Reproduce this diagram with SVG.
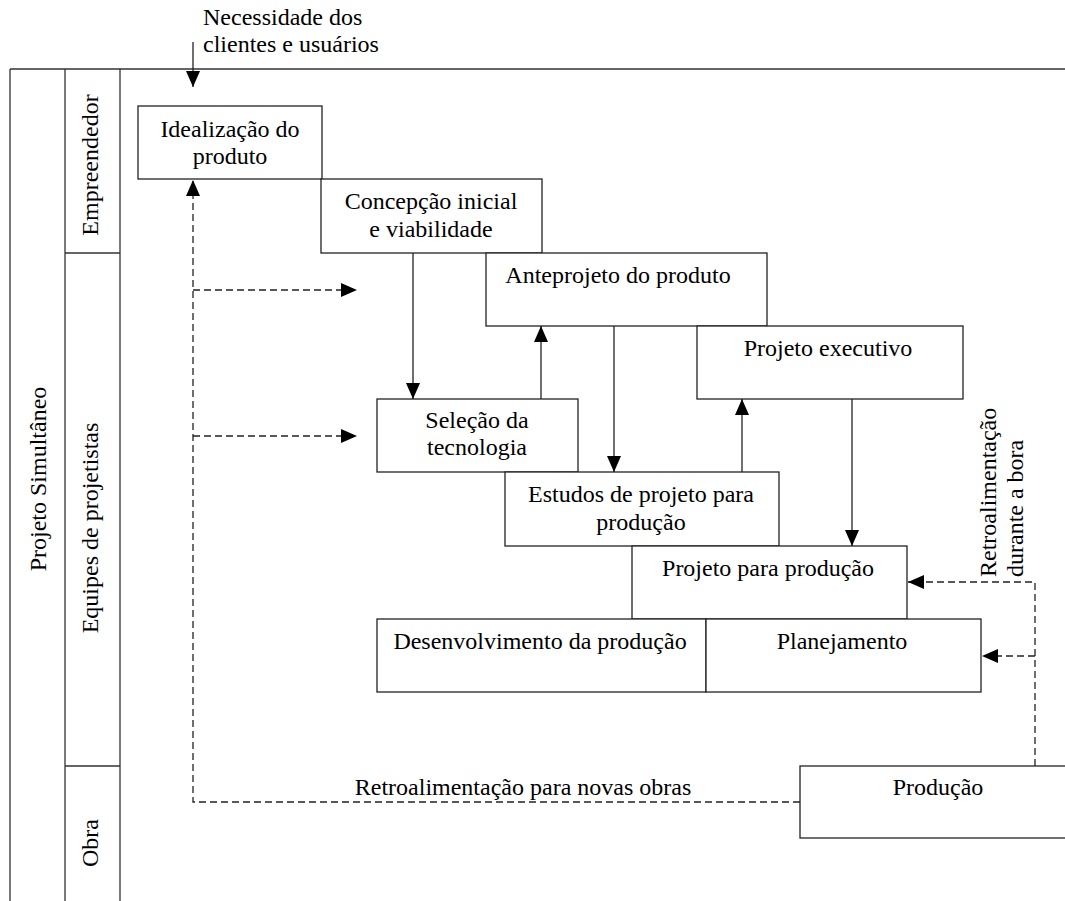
<svg xmlns="http://www.w3.org/2000/svg" width="1065" height="901" viewBox="0 0 1065 901">
  <style>
    .frame { stroke: #333; stroke-width: 1.3; fill: none; }
    .box { stroke: #222; stroke-width: 1.3; fill: #fff; }
    .flow { stroke: #222; stroke-width: 1.3; fill: none; }
    .dash { stroke: #222; stroke-width: 1.3; fill: none; stroke-dasharray: 7 4; }
    text { font-family: "Liberation Serif", "Times New Roman", serif; font-size: 24px; fill: #000; }
    .c { text-anchor: middle; }
  </style>
  <defs>
    <marker id="arrow" markerUnits="userSpaceOnUse" markerWidth="16" markerHeight="14" refX="16" refY="7" orient="auto">
      <path d="M0,0 L16,7 L0,14 Z" fill="#000"/>
    </marker>
  </defs>

  <rect width="1065" height="901" fill="#fff"/>

  <!-- swimlane frame -->
  <g id="lanes">
    <path class="frame" d="M10,69 H1065 M10,69 V901 M65,69 V901 M120,69 V901 M65,253 H120 M65,766 H120"/>
    <text class="c" transform="translate(46,479) rotate(-90)">Projeto Simultâneo</text>
    <text class="c" transform="translate(98,165) rotate(-90)">Empreendedor</text>
    <text class="c" transform="translate(98,528) rotate(-90)">Equipes de projetistas</text>
    <text class="c" transform="translate(98,843) rotate(-90)">Obra</text>
  </g>

  <!-- input label -->
  <g id="input">
    <text x="203" y="25">Necessidade dos</text>
    <text x="203" y="52">clientes e usuários</text>
  </g>

  <!-- process boxes -->
  <g id="idealizacao">
    <rect class="box" x="138" y="106" width="184" height="73"/>
    <text class="c" x="230" y="137">Idealização do</text>
    <text class="c" x="230" y="164">produto</text>
  </g>
  <g id="concepcao">
    <rect class="box" x="321" y="179" width="221" height="74"/>
    <text class="c" x="431" y="209">Concepção inicial</text>
    <text class="c" x="431" y="237">e viabilidade</text>
  </g>
  <g id="anteprojeto">
    <rect class="box" x="486" y="253" width="281" height="73"/>
    <text class="c" x="618" y="283">Anteprojeto do produto</text>
  </g>
  <g id="projeto-executivo">
    <rect class="box" x="697" y="326" width="266" height="73"/>
    <text class="c" x="828" y="356">Projeto executivo</text>
  </g>
  <g id="selecao">
    <rect class="box" x="377" y="399" width="201" height="73"/>
    <text class="c" x="477" y="428">Seleção da</text>
    <text class="c" x="477" y="455">tecnologia</text>
  </g>
  <g id="estudos">
    <rect class="box" x="505" y="472" width="274" height="74"/>
    <text class="c" x="641" y="502">Estudos de projeto para</text>
    <text class="c" x="641" y="530">produção</text>
  </g>
  <g id="projeto-producao">
    <rect class="box" x="632" y="546" width="275" height="73"/>
    <text class="c" x="768" y="576">Projeto para produção</text>
  </g>
  <g id="desenvolvimento">
    <rect class="box" x="377" y="619" width="329" height="73"/>
    <text class="c" x="540" y="649">Desenvolvimento da produção</text>
  </g>
  <g id="planejamento">
    <rect class="box" x="706" y="619" width="275" height="73"/>
    <text class="c" x="842" y="649">Planejamento</text>
  </g>
  <g id="producao">
    <rect class="box" x="800" y="766" width="280" height="72"/>
    <text class="c" x="938" y="795">Produção</text>
  </g>

  <!-- connectors -->
  <g id="connectors">
    <line class="flow" x1="193" y1="42" x2="193" y2="87" marker-end="url(#arrow)"/>
    <line class="flow" x1="413" y1="253" x2="413" y2="399" marker-end="url(#arrow)"/>
    <line class="flow" x1="541" y1="399" x2="541" y2="326" marker-end="url(#arrow)"/>
    <line class="flow" x1="614" y1="326" x2="614" y2="472" marker-end="url(#arrow)"/>
    <line class="flow" x1="742" y1="472" x2="742" y2="399" marker-end="url(#arrow)"/>
    <line class="flow" x1="852" y1="399" x2="852" y2="546" marker-end="url(#arrow)"/>

    <path class="dash" d="M800,802 H193 V180" marker-end="url(#arrow)"/>
    <line class="dash" x1="193" y1="290" x2="357" y2="290" marker-end="url(#arrow)"/>
    <line class="dash" x1="193" y1="436" x2="357" y2="436" marker-end="url(#arrow)"/>
    <path class="dash" d="M1035,766 V582 H908" marker-end="url(#arrow)"/>
    <line class="dash" x1="1035" y1="656" x2="982" y2="656" marker-end="url(#arrow)"/>

    <text class="c" x="523" y="795">Retroalimentação para novas obras</text>
    <text transform="translate(996,577) rotate(-90)">Retroalimentação</text>
    <text transform="translate(1023,577) rotate(-90)">durante a bora</text>
  </g>
</svg>
